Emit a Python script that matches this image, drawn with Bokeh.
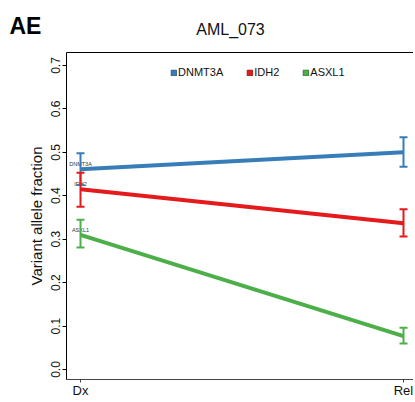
from bokeh.plotting import figure
from bokeh.layouts import column
from bokeh.models import (ColumnDataSource, Range1d, FixedTicker, Whisker, TeeHead,
                          Legend, LegendItem, LinearAxis, PrintfTickFormatter)
from bokeh.core.properties import value
from bokeh.embed import file_html
from bokeh.resources import INLINE

# ---- data ----
panel_tag = "AE"
chart_title = "AML_073"
timepoints = ["Dx", "Rel"]
tp_x = [1, 2]
genes = ["DNMT3A", "IDH2", "ASXL1"]
colors = ["#377EB8", "#E41A1C", "#4DAF4A"]
edge_colors = ["#1F4E7A", "#8B0E10", "#2A6B28"]
vaf_dx = [0.461, 0.415, 0.310]
vaf_rel = [0.500, 0.337, 0.077]
low_dx = [0.425, 0.375, 0.281]
high_dx = [0.498, 0.453, 0.345]
low_rel = [0.467, 0.306, 0.060]
high_rel = [0.535, 0.369, 0.096]
y_ticks = [0.0, 0.1, 0.2, 0.3, 0.4, 0.5, 0.6, 0.7]
y_label = "Variant allele fraction"

FONT = "Liberation Sans"
W = 413
HDR_H = 50
MAIN_H = 350

# ---- header (panel tag + title) ----
hdr = figure(width=W, height=HDR_H, output_backend="svg", toolbar_location=None, title=None,
             x_range=Range1d(0, W), y_range=Range1d(HDR_H, 0),
             min_border_left=0, min_border_right=0, min_border_top=0, min_border_bottom=0,
             x_axis_type=None, y_axis_type=None)
hdr.outline_line_color = None
hdr.grid.visible = False
hdr.text(x=[9], y=[25], text=[panel_tag], text_font=value(FONT), text_font_size="23px",
         text_font_style="bold", text_align="left", text_baseline="alphabetic",
         text_color="black")
hdr.text(x=[230], y=[29], text=[chart_title], text_font=value(FONT), text_font_size="16px",
         text_align="center", text_baseline="alphabetic", text_color="#111111")

# ---- main plot ----
p = figure(width=W, height=MAIN_H, output_backend="svg", toolbar_location=None, title=None,
           x_range=Range1d(0.95666, 2.03096), y_range=Range1d(-0.02295, 0.72984),
           min_border_left=66, min_border_right=0, min_border_top=2, min_border_bottom=20)
p.background_fill_color = "white"
p.border_fill_color = "white"
p.outline_line_color = None
p.xgrid.visible = False
p.ygrid.visible = False

for fig in (hdr, p):
    if "frame_align" in fig.properties():
        fig.frame_align = False

for i, g in enumerate(genes):
    src = ColumnDataSource(dict(x=tp_x, y=[vaf_dx[i], vaf_rel[i]],
                                lower=[low_dx[i], low_rel[i]],
                                upper=[high_dx[i], high_rel[i]]))
    wh = Whisker(source=src, base="x", lower="lower", upper="upper",
                 line_color=colors[i], line_width=2,
                 upper_head=TeeHead(size=8, line_color=colors[i], line_width=2),
                 lower_head=TeeHead(size=8, line_color=colors[i], line_width=2),
                 level="glyph")
    p.add_layout(wh)
    p.line(x="x", y="y", source=src, line_color=colors[i], line_width=4)

# small gene labels at Dx
p.text(x=[tp_x[0]] * len(genes), y=vaf_dx, text=genes, y_offset=-5,
       text_font=value(FONT), text_font_size="5.5px", text_align="center",
       text_baseline="middle", text_color="#333333")

# legend (square keys) - degenerate quads at the data points, only visible in the legend
items = []
for i, g in enumerate(genes):
    r = p.quad(left=tp_x, right=tp_x, top=[vaf_dx[i], vaf_rel[i]],
               bottom=[vaf_dx[i], vaf_rel[i]], fill_color=colors[i],
               line_color=edge_colors[i], line_width=0.8)
    items.append(LegendItem(label=g, renderers=[r]))
legend = Legend(items=items, orientation="horizontal", location=(104, 301),
                glyph_width=7, glyph_height=7, label_standoff=1, spacing=23,
                padding=0, margin=0, border_line_color=None, background_fill_alpha=0,
                label_text_font=FONT, label_text_font_size="11px", label_height=12,
                label_text_color="#111111")
p.add_layout(legend)

p.xaxis.ticker = FixedTicker(ticks=tp_x)
p.xaxis.major_label_overrides = {tp_x[0]: timepoints[0], tp_x[1]: timepoints[1]}
p.xaxis.major_label_text_font = FONT
p.xaxis.major_label_text_font_size = "13px"
p.xaxis.major_label_text_color = "#111111"
p.xaxis.major_tick_out = 3
p.xaxis.major_tick_in = 0
p.xaxis.minor_tick_line_color = None
p.xaxis.major_label_standoff = 0
p.xaxis.axis_line_color = "#444444"
p.xaxis.major_tick_line_color = "#444444"

p.yaxis.ticker = FixedTicker(ticks=y_ticks)
p.yaxis.formatter = PrintfTickFormatter(format="%.1f")
p.yaxis.major_label_orientation = "vertical"
p.yaxis.major_label_text_font = FONT
p.yaxis.major_label_text_font_size = "12px"
p.yaxis.major_label_text_color = "#111111"
p.yaxis.major_tick_out = 4
p.yaxis.major_tick_in = 0
p.yaxis.minor_tick_line_color = None
p.yaxis.major_label_standoff = 2
p.yaxis.axis_line_color = "black"
p.yaxis.axis_label = y_label
p.yaxis.axis_label_text_font = FONT
p.yaxis.axis_label_text_font_size = "15px"
p.yaxis.axis_label_text_font_style = "normal"
p.yaxis.axis_label_text_color = "#111111"
p.yaxis.axis_label_standoff = 4

top_axis = LinearAxis(ticker=FixedTicker(ticks=[]), major_tick_out=0, major_tick_in=0,
                      minor_tick_out=0, minor_tick_in=0, major_label_text_font_size="0px",
                      major_label_standoff=0, axis_line_color="black", axis_line_width=1.2)
p.add_layout(top_axis, "above")

layout = column(hdr, p, spacing=0)
open("out.html", "w").write(file_html(layout, INLINE))
